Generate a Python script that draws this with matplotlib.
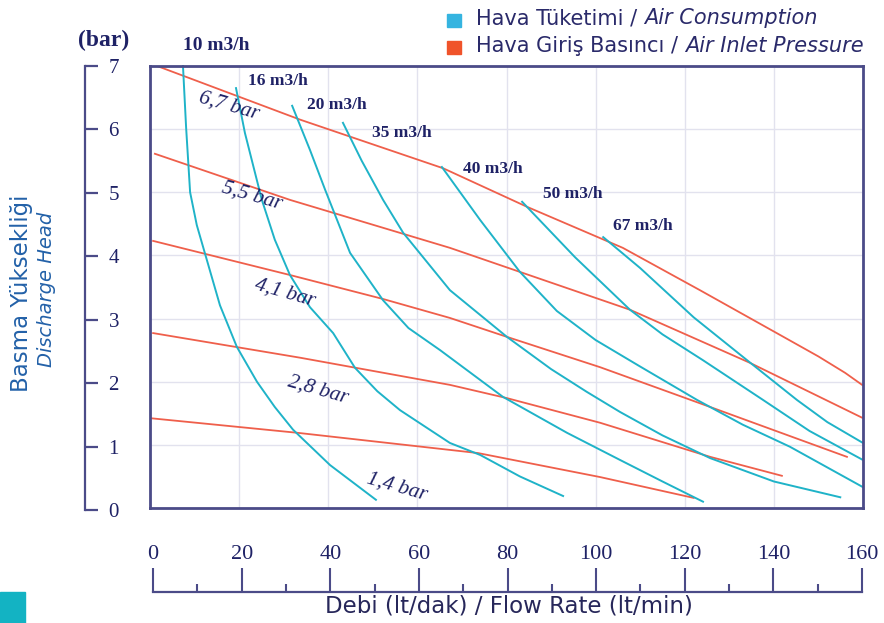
import numpy as np
import matplotlib.pyplot as plt
from matplotlib.patches import Rectangle

# air inlet pressure lines (bar)
pressure_labels = ["6,7 bar", "5,5 bar", "4,1 bar", "2,8 bar", "1,4 bar"]
p67_x = [1.6, 33.7, 65.8, 84.6, 106.1, 123.4, 141.4, 150.0, 156.0, 159.8]
p67_y = [7.0, 6.15, 5.38, 4.77, 4.12, 3.45, 2.74, 2.40, 2.14, 1.95]
p55_x = [1.1, 31.4, 67.3, 107.7, 134.6, 159.8]
p55_y = [5.61, 4.88, 4.12, 3.14, 2.30, 1.43]
p41_x = [0.7, 31.4, 52.3, 67.3, 80.1, 101.0, 125.7, 156.4]
p41_y = [4.23, 3.69, 3.31, 3.01, 2.71, 2.23, 1.60, 0.81]
p28_x = [0.7, 33.7, 67.3, 80.1, 101.0, 125.7, 141.8]
p28_y = [2.77, 2.38, 1.95, 1.74, 1.35, 0.81, 0.51]
p14_x = [0.4, 33.2, 73.6, 101.0, 122.0]
p14_y = [1.42, 1.19, 0.87, 0.49, 0.16]

# air consumption lines (m3/h)
air_labels = ["10 m3/h", "16 m3/h", "20 m3/h", "35 m3/h", "40 m3/h", "50 m3/h", "67 m3/h"]
a10_x = [7.4, 8.1, 9.0, 10.5, 12.3, 15.7, 19.5, 24.0, 28.0, 32.1, 40.4, 50.7]
a10_y = [7.0, 6.03, 5.0, 4.48, 4.04, 3.21, 2.55, 2.0, 1.60, 1.24, 0.68, 0.13]
a16_x = [19.3, 21.3, 25.1, 28.0, 31.4, 35.9, 41.1, 46.0, 51.0, 56.1, 67.3, 74.1, 83.0, 92.7]
a16_y = [6.65, 5.94, 4.88, 4.25, 3.69, 3.18, 2.77, 2.22, 1.85, 1.55, 1.03, 0.84, 0.50, 0.19]
a20_x = [31.9, 35.9, 39.3, 44.9, 52.3, 58.0, 65.1, 79.2, 93.6, 105.5, 115.0, 124.1]
a20_y = [6.37, 5.67, 5.04, 4.04, 3.29, 2.85, 2.50, 1.76, 1.19, 0.76, 0.42, 0.10]
a35_x = [43.3, 47.5, 52.3, 56.8, 67.3, 80.1, 90.0, 98.0, 105.5, 115.0, 125.7, 140.0, 154.9]
a35_y = [6.10, 5.50, 4.88, 4.36, 3.45, 2.71, 2.20, 1.84, 1.52, 1.15, 0.79, 0.42, 0.17]
a40_x = [65.5, 74.1, 83.0, 91.3, 100.0, 110.0, 122.8, 133.0, 143.6, 160.0]
a40_y = [5.40, 4.56, 3.74, 3.12, 2.66, 2.24, 1.71, 1.32, 0.97, 0.33]
a50_x = [83.5, 95.4, 107.7, 115.0, 124.1, 137.6, 148.0, 160.0]
a50_y = [4.85, 3.97, 3.14, 2.75, 2.34, 1.71, 1.22, 0.76]
a67_x = [101.7, 110.0, 122.0, 134.0, 145.2, 152.0, 160.0]
a67_y = [4.29, 3.80, 3.02, 2.34, 1.71, 1.36, 1.03]

x_ticks = [0, 20, 40, 60, 80, 100, 120, 140, 160]
y_ticks = [0, 1, 2, 3, 4, 5, 6, 7]

cyan = "#1fb3c8"
red = "#ef5f4b"
navy = "#1f2266"
frame = "#4b4b88"
serif = "Liberation Serif"
sans = "DejaVu Sans"

fig = plt.figure(figsize=(8.84, 6.23), dpi=100)
W, H = 884, 623

def fx(px):
    return px / W

def fy(py):
    return 1 - py / H

ax = fig.add_axes([fx(150), fy(508), 713 / W, 442 / H])
ax.set_xlim(0, 160)
ax.set_ylim(0, 7)
ax.set_xticks(x_ticks)
ax.set_yticks(y_ticks)
ax.tick_params(length=0, labelbottom=False, labelleft=False)
ax.grid(True, color="#e2e2ee", linewidth=1)
for s in ax.spines.values():
    s.set_color(frame)
    s.set_linewidth(2)

for xs, ys in [(p67_x, p67_y), (p55_x, p55_y), (p41_x, p41_y), (p28_x, p28_y), (p14_x, p14_y)]:
    ax.plot(xs, ys, color=red, linewidth=1.3)
for xs, ys in [(a10_x, a10_y), (a16_x, a16_y), (a20_x, a20_y), (a35_x, a35_y),
               (a40_x, a40_y), (a50_x, a50_y), (a67_x, a67_y)]:
    ax.plot(xs, ys, color=cyan, linewidth=1.4, clip_on=False)

# pressure labels (pixel centres from the picture)
p_pos = [(229, 106), (252, 196), (285, 293), (318, 390), (397, 487)]
for lab, (px, py) in zip(pressure_labels, p_pos):
    fig.text(fx(px), fy(py), lab, family=serif, style="italic", fontsize=15.5,
             color=navy, rotation=-16, ha="center", va="center")

# flow labels
f_pos = [(216, 46), (278, 81), (337, 105), (402, 133), (493, 169), (573, 194), (643, 226)]
for i, (lab, (px, py)) in enumerate(zip(air_labels, f_pos)):
    fig.text(fx(px), fy(py), lab, family=serif, weight="bold",
             fontsize=14 if i == 0 else 12.5, color=navy, ha="center", va="center")

fig.text(fx(104), fy(40), "(bar)", family=serif, weight="bold", fontsize=17,
         color=navy, ha="center", va="center")

# left bracket scale
axl = fig.add_axes([fx(40), fy(510), 45 / W, 444 / H])
axl.set_ylim(0, 7)
axl.set_yticks(y_ticks)
axl.set_xticks([])
for k in ["left", "top", "bottom"]:
    axl.spines[k].set_visible(False)
axl.spines["right"].set_color(frame)
axl.spines["right"].set_linewidth(1.6)
axl.yaxis.tick_right()
axl.tick_params(axis="y", direction="out", length=9, width=1.6, color=frame,
                pad=8, labelsize=15, labelcolor=navy)
for t in axl.get_yticklabels():
    t.set_family(serif)
axl.patch.set_alpha(0)

# bottom ruler scale
axb = fig.add_axes([fx(153), fy(592) - 0.02, 709 / W, 0.02])
axb.set_xlim(0, 160)
axb.set_xticks(x_ticks)
axb.set_xticks(np.arange(10, 160, 20), minor=True)
axb.set_yticks([])
for k in ["left", "right", "bottom"]:
    axb.spines[k].set_visible(False)
axb.spines["top"].set_color(frame)
axb.spines["top"].set_linewidth(1.6)
axb.xaxis.tick_top()
axb.tick_params(axis="x", which="major", direction="out", length=17, width=1.5,
                color=frame, pad=3, labelsize=16, labelcolor=navy)
axb.tick_params(axis="x", which="minor", direction="out", length=6, width=1.5, color=frame)
for t in axb.get_xticklabels():
    t.set_family(serif)
axb.patch.set_alpha(0)

# axis titles
fig.text(fx(22), fy(293), "Basma Yüksekliği", family=sans, fontsize=16.5, color="#2361a8",
         rotation=90, ha="center", va="center")
fig.text(fx(47), fy(289), "Discharge Head", family=sans, style="italic", fontsize=14,
         color="#2361a8", rotation=90, ha="center", va="center")
fig.text(fx(509), fy(606), "Debi (lt/dak) / Flow Rate (lt/min)", family=sans, fontsize=16.5,
         color="#27275a", ha="center", va="center")

# legend
fig.patches.append(Rectangle((fx(447), fy(27)), 14 / W, 13 / H, transform=fig.transFigure,
                             color="#35b4e0"))
fig.patches.append(Rectangle((fx(447), fy(54)), 14 / W, 13 / H, transform=fig.transFigure,
                             color="#f0532a"))
t1 = fig.text(fx(476), fy(18), "Hava Tüketimi / ", family=sans, fontsize=15, color="#2a2a6a",
              va="center", ha="left")
ax.annotate("Air Consumption", xy=(1, 0), xycoords=t1, va="bottom", ha="left",
            family=sans, style="italic", fontsize=15, color="#2a2a6a", annotation_clip=False)
t2 = fig.text(fx(476), fy(46), "Hava Giriş Basıncı / ", family=sans, fontsize=15,
              color="#2a2a6a", va="center", ha="left")
ax.annotate("Air Inlet Pressure", xy=(1, 0), xycoords=t2, va="bottom", ha="left",
            family=sans, style="italic", fontsize=15, color="#2a2a6a", annotation_clip=False)

# corner decoration
fig.patches.append(Rectangle((0, 0), 25 / W, 31 / H, transform=fig.transFigure, color="#13b3c3"))

fig.savefig("out.png", dpi=100)
